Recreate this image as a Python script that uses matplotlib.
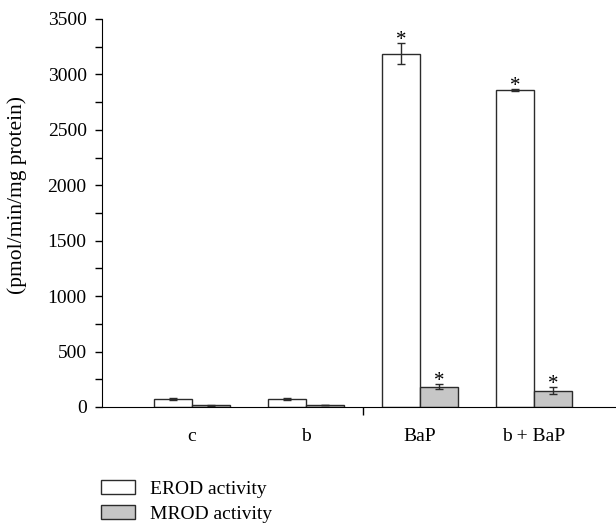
import matplotlib.pyplot as plt
import numpy as np
from matplotlib.patches import Patch
from matplotlib.ticker import MultipleLocator

plt.rcParams["font.family"] = ["Liberation Serif", "DejaVu Serif"]

groups = ["c", "b", "BaP", "b + BaP"]
erod = [75, 75, 3185, 2860]
erod_err = [8, 8, 95, 12]
mrod = [15, 18, 183, 148]
mrod_err = [4, 4, 20, 32]
erod_sig = [False, False, True, True]
mrod_sig = [False, False, True, True]

edge = "#2b2b2b"
fig = plt.figure(figsize=(6.16, 5.23), dpi=100)
ax = fig.add_axes([0.1648, 0.2218, 0.8352, 0.7419])

x = np.arange(len(groups))
w = 1 / 3
ax.bar(x - w / 2, erod, w, yerr=erod_err, color="white", edgecolor=edge,
       linewidth=1.0, capsize=3, error_kw=dict(elinewidth=1.0, ecolor=edge, capthick=1.0))
ax.bar(x + w / 2, mrod, w, yerr=mrod_err, color="#c6c6c6", edgecolor=edge,
       linewidth=1.0, capsize=3, error_kw=dict(elinewidth=1.0, ecolor=edge, capthick=1.0))

for i in range(len(groups)):
    if erod_sig[i]:
        ax.annotate("*", (x[i] - w / 2, erod[i] + erod_err[i]), xytext=(0, -5),
                    textcoords="offset points", ha="center", va="bottom", fontsize=15)
    if mrod_sig[i]:
        ax.annotate("*", (x[i] + w / 2, mrod[i] + mrod_err[i]), xytext=(0, -5),
                    textcoords="offset points", ha="center", va="bottom", fontsize=15)

ax.set_xlim(-0.794, 3.72)
ax.set_ylim(0, 3500)
ax.set_xticks(x)
ax.set_xticklabels(groups, fontsize=14)
ax.tick_params(axis="x", which="major", length=0, pad=15)
ax.set_xticks([1.5], minor=True)
ax.tick_params(axis="x", which="minor", length=6, direction="out", width=1)
ax.yaxis.set_major_locator(MultipleLocator(500))
ax.yaxis.set_minor_locator(MultipleLocator(250))
ax.tick_params(axis="y", which="both", length=4.7, direction="out", labelsize=14, width=1, pad=6)
ax.spines["top"].set_visible(False)
ax.spines["right"].set_visible(False)
ax.set_ylabel("(pmol/min/mg protein)", fontsize=15.5)
ax.yaxis.set_label_coords(-0.145, 0.546)

handles = [Patch(facecolor="white", edgecolor=edge, label="EROD activity"),
           Patch(facecolor="#c6c6c6", edgecolor=edge, label="MROD activity")]
fig.legend(handles=handles, loc="upper left", bbox_to_anchor=(0.164, 0.083), frameon=False,
           fontsize=14, handlelength=1.75, handleheight=0.77, labelspacing=0.38,
           handletextpad=0.77, borderpad=0, borderaxespad=0)

fig.savefig("out.png", dpi=100)
